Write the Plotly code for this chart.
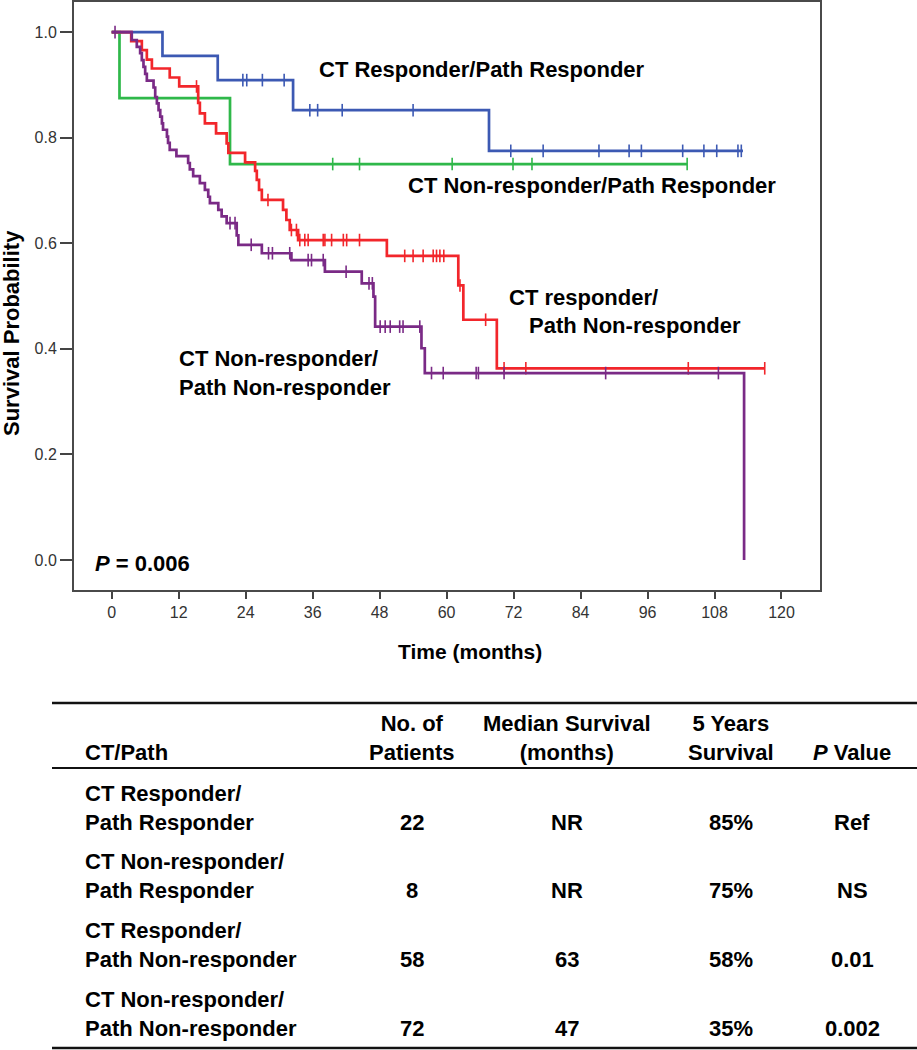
import plotly.graph_objects as go

# ---------------- data ----------------
group_names = ["CT Responder/Path Responder", "CT Non-responder/Path Responder",
               "CT Responder/Path Non-responder", "CT Non-responder/Path Non-responder"]

# Kaplan-Meier steps (event time in months, survival after the step)
blue_times = [0, 9.1, 19.0, 32.5, 67.6]
blue_surv = [1.0, 0.955, 0.909, 0.852, 0.775]
blue_end = 113.1
blue_censor = [23.5, 24.2, 27.0, 30.9, 35.5, 36.9, 41.3, 54.0, 71.5, 77.3, 87.3,
               92.7, 94.9, 102.3, 106.1, 108.4, 112.2, 112.8]

green_times = [0, 1.4, 21.2]
green_surv = [1.0, 0.875, 0.75]
green_end = 103.1
green_censor = [39.6, 44.4, 61.0, 71.9, 75.3, 103.1]

red_times = [0, 3.5, 5.4, 6.3, 7.2, 10.4, 12.1, 15.5, 15.8, 16.7, 18.7, 20.6, 20.9,
             23.9, 25.7, 26.0, 26.4, 26.9, 30.7, 31.3, 31.9, 33.4, 49.3, 62.1, 63.0, 69.0]
red_surv = [1.0, 0.983, 0.966, 0.948, 0.931, 0.914, 0.897, 0.866, 0.846, 0.827, 0.808,
            0.789, 0.771, 0.753, 0.737, 0.720, 0.701, 0.682, 0.663, 0.644, 0.625, 0.606,
            0.576, 0.520, 0.455, 0.363]
red_end = 117.0
red_censor = [15.2, 28.0, 32.2, 33.1, 33.7, 34.6, 35.2, 37.9, 38.2, 39.4, 41.5, 42.1,
              44.4, 52.5, 54.0, 55.8, 57.6, 58.2, 58.8, 59.5, 62.4, 67.0, 70.3, 74.2,
              103.3, 117.0]

purple_times = [0, 3.6, 4.5, 5.1, 5.4, 5.7, 6.0, 6.3, 7.5, 7.8, 8.1, 8.4, 8.7, 9.0, 9.2,
                9.9, 10.1, 10.4, 11.6, 13.7, 14.0, 14.6, 15.8, 16.7, 17.3, 17.6, 19.1,
                19.7, 20.6, 22.4, 22.7, 26.9, 32.2, 38.2, 44.8, 46.9, 47.2, 55.5, 56.1,
                113.3]
purple_surv = [1.0, 0.985, 0.972, 0.960, 0.947, 0.934, 0.921, 0.908, 0.895, 0.877, 0.865,
               0.852, 0.840, 0.827, 0.815, 0.802, 0.790, 0.777, 0.765, 0.752, 0.740,
               0.727, 0.714, 0.701, 0.688, 0.676, 0.663, 0.651, 0.638, 0.615, 0.597,
               0.581, 0.568, 0.546, 0.524, 0.499, 0.442, 0.401, 0.354, 0.0]
purple_end = 113.3
purple_censor = [0.6, 21.2, 22.1, 25.0, 28.1, 28.8, 31.9, 35.2, 35.8, 37.9, 42.0, 46.1,
                 46.7, 48.1, 49.0, 49.9, 51.6, 52.2, 55.2, 57.3, 59.4, 65.3, 65.7, 70.3,
                 88.5, 108.7]

x_ticks = [0, 12, 24, 36, 48, 60, 72, 84, 96, 108, 120]
y_ticks = [0.0, 0.2, 0.4, 0.6, 0.8, 1.0]
p_value_text = "<i>P</i> = 0.006"

# table
table_headers = ["CT/Path", "No. of<br>Patients", "Median Survival<br>(months)",
                 "5 Years<br>Survival", "<i>P</i> Value"]
table_groups = ["CT Responder/<br>Path Responder", "CT Non-responder/<br>Path Responder",
                "CT Responder/<br>Path Non-responder", "CT Non-responder/<br>Path Non-responder"]
n_patients = ["22", "8", "58", "72"]
median_survival = ["NR", "NR", "63", "47"]
five_year_survival = ["85%", "75%", "58%", "35%"]
p_values = ["Ref", "NS", "0.01", "0.002"]

# ---------------- styling ----------------
W, H = 917, 1050
FONT = "Liberation Sans, Arial, Helvetica, sans-serif"
colors = ["#3c59b3", "#2fb84a", "#f2262b", "#7a2a86"]


def px(x):
    return x / W


def py(y):
    return 1 - y / H


def surv_at(times, surv, t):
    s = surv[0]
    for ti, si in zip(times, surv):
        if ti <= t:
            s = si
    return s


fig = go.Figure()
curves = [
    (blue_times, blue_surv, blue_end, blue_censor),
    (green_times, green_surv, green_end, green_censor),
    (red_times, red_surv, red_end, red_censor),
    (purple_times, purple_surv, purple_end, purple_censor),
]
for (times, surv, end, cens), col, name in zip(curves, colors, group_names):
    xs = list(times)
    ys = list(surv)
    if xs[-1] < end:
        xs.append(end)
        ys.append(ys[-1])
    fig.add_trace(go.Scatter(x=xs, y=ys, mode="lines", line=dict(color=col, width=2.7, shape="hv"),
                             name=name, showlegend=False, hoverinfo="skip"))
    fig.add_trace(go.Scatter(x=cens, y=[surv_at(times, surv, c) for c in cens], mode="markers",
                             marker=dict(symbol="line-ns", size=9, line=dict(color=col, width=1.6)),
                             showlegend=False, hoverinfo="skip"))

fig.update_layout(
    width=W, height=H,
    margin=dict(l=0, r=0, t=0, b=0),
    paper_bgcolor="white", plot_bgcolor="white",
    font=dict(family=FONT, color="#000"),
    xaxis=dict(domain=[px(74), px(820)], range=[-6.75, 126.9], tickvals=x_ticks,
               ticks="outside", ticklen=7, tickwidth=1.5, tickcolor="#444",
               showgrid=False, zeroline=False, showline=True, mirror=True,
               linecolor="#4a4a4a", linewidth=2,
               tickfont=dict(family=FONT, size=16, color="#333")),
    yaxis=dict(domain=[py(590), py(2)], range=[-0.057, 1.057], tickvals=y_ticks,
               tickformat=".1f", ticks="outside", ticklen=12, tickwidth=1.5, tickcolor="#444",
               showgrid=False, zeroline=False, showline=True, mirror=True,
               linecolor="#4a4a4a", linewidth=2,
               tickfont=dict(family=FONT, size=16, color="#333")),
)

ann = []
# axis titles
ann.append(dict(x=px(470), y=py(651), xref="paper", yref="paper", text="<b>Time (months)</b>",
                showarrow=False, font=dict(size=21, family=FONT), xanchor="center", yanchor="middle"))
ann.append(dict(x=px(11), y=py(333), xref="paper", yref="paper", text="<b>Survival Probability</b>",
                showarrow=False, textangle=-90, font=dict(size=22, family=FONT),
                xanchor="center", yanchor="middle"))
# p value
ann.append(dict(x=px(93), y=py(563), xref="paper", yref="paper", text="<b>" + p_value_text + "</b>",
                showarrow=False, font=dict(size=22, family=FONT), xanchor="left", yanchor="middle"))
# curve labels
lab_font = dict(size=22, family=FONT, color="#000")
ann.append(dict(x=px(317), y=py(70), xref="paper", yref="paper",
                text="<b>CT Responder/Path Responder</b>", showarrow=False, font=lab_font,
                xanchor="left", yanchor="middle"))
ann.append(dict(x=px(778), y=py(185), xref="paper", yref="paper",
                text="<b>CT Non-responder/Path Responder</b>", showarrow=False, font=lab_font,
                xanchor="right", yanchor="middle"))
ann.append(dict(x=px(507), y=py(297), xref="paper", yref="paper",
                text="<b>CT responder/</b>", showarrow=False, font=lab_font,
                xanchor="left", yanchor="middle"))
ann.append(dict(x=px(527), y=py(325), xref="paper", yref="paper",
                text="<b>Path Non-responder</b>", showarrow=False, font=lab_font,
                xanchor="left", yanchor="middle"))
ann.append(dict(x=px(177), y=py(372.5), xref="paper", yref="paper",
                text="<b>CT Non-responder/<br>Path Non-responder</b>", showarrow=False, font=lab_font,
                xanchor="left", yanchor="middle", align="left"))

# table
tfont = dict(size=22, family=FONT, color="#000")
col_x = [83, 412, 567, 731, 852]
ann.append(dict(x=px(col_x[0]), y=py(752), xref="paper", yref="paper", text="<b>" + table_headers[0] + "</b>",
                showarrow=False, font=tfont, xanchor="left", yanchor="middle"))
for hx, htxt in zip(col_x[1:-1], table_headers[1:-1]):
    ann.append(dict(x=px(hx), y=py(738), xref="paper", yref="paper", text="<b>" + htxt + "</b>",
                    showarrow=False, font=tfont, xanchor="center", yanchor="middle", align="center"))
ann.append(dict(x=px(col_x[-1]), y=py(752), xref="paper", yref="paper", text="<b>" + table_headers[-1] + "</b>",
                showarrow=False, font=tfont, xanchor="center", yanchor="middle"))

row_top = 807.5
row_step = 68.9
for i, grp in enumerate(table_groups):
    yc = row_top + i * row_step
    ann.append(dict(x=px(col_x[0]), y=py(yc), xref="paper", yref="paper", text="<b>" + grp + "</b>",
                    showarrow=False, font=tfont, xanchor="left", yanchor="middle", align="left"))
    for cx, vals in zip(col_x[1:], [n_patients, median_survival, five_year_survival, p_values]):
        ann.append(dict(x=px(cx), y=py(yc + 14.5), xref="paper", yref="paper", text="<b>" + vals[i] + "</b>",
                        showarrow=False, font=tfont, xanchor="center", yanchor="middle"))

fig.update_layout(annotations=ann)

shapes = [
    dict(type="line", xref="paper", yref="paper", x0=px(52), x1=1.0, y0=py(703), y1=py(703),
         line=dict(color="#111", width=2.5)),
    dict(type="line", xref="paper", yref="paper", x0=px(52), x1=1.0, y0=py(768), y1=py(768),
         line=dict(color="#111", width=2)),
    dict(type="line", xref="paper", yref="paper", x0=px(52), x1=1.0, y0=py(1048), y1=py(1048),
         line=dict(color="#111", width=2.5)),
]
fig.update_layout(shapes=shapes)

fig.write_html("out.html",
               config={"displayModeBar": False},
               post_script="document.body.style.margin='0';document.body.style.padding='0';"
                           "document.body.style.overflow='hidden';")
